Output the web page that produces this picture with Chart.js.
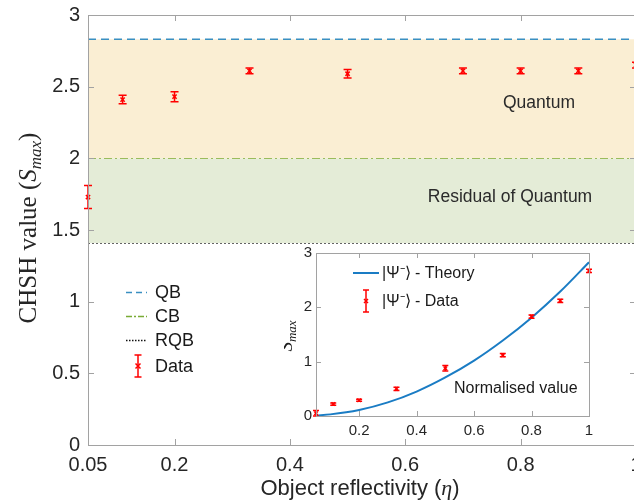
<!DOCTYPE html>
<html>
<head>
<meta charset="utf-8">
<title>CHSH value vs object reflectivity</title>
<style>
  html, body { margin: 0; padding: 0; background: #fff; overflow: hidden; }
  #wrap { position: relative; width: 634px; height: 504px; overflow: hidden; }
  #mainChart { position: absolute; left: 0; top: 0; }
  #insetChart { position: absolute; left: 284px; top: 245px; }
</style>
<script src="https://cdn.jsdelivr.net/npm/chart.js@4.4.0/dist/chart.umd.min.js"></script>
</head>
<body>
<div id="wrap">
  <canvas id="mainChart" width="640" height="504"></canvas>
  <canvas id="insetChart" width="322" height="195"></canvas>
</div>
<script>
var eta = [0.05, 0.11, 0.2, 0.33, 0.5, 0.7, 0.8, 0.9, 1.0];
var chsh = [1.73, 2.41, 2.43, 2.61, 2.59, 2.61, 2.61, 2.61, 2.65];
var chshErr = [0.08, 0.03, 0.035, 0.02, 0.03, 0.02, 0.02, 0.02, 0.02];

// inset: normalised values
var normS = [0.05, 0.22, 0.29, 0.50, 0.88, 1.12, 1.83, 2.12, 2.67];
var normErr = [0.05, 0.02, 0.02, 0.03, 0.05, 0.03, 0.03, 0.03, 0.03];
var theoryEta = [0.05, 0.1, 0.2, 0.3, 0.4, 0.5, 0.6, 0.7, 0.8, 0.9, 1.0];
var theoryS = [0.01, 0.03, 0.11, 0.25, 0.45, 0.71, 1.02, 1.39, 1.81, 2.29, 2.83];

// bounds
var boundNames = ['QB', 'CB', 'RQB'];
var boundValues = [2.83, 2.0, 1.41];
var etaRange = [0.05, 1.0];

// ticks
var mainXTicks = [0.05, 0.2, 0.4, 0.6, 0.8, 1];
var mainYTicks = [0, 0.5, 1, 1.5, 2, 2.5, 3];
var insetXTicks = [0.2, 0.4, 0.6, 0.8, 1];
var insetYTicks = [0, 1, 2, 3];

var SANS = '"Liberation Sans", Arial, sans-serif';
var SERIF = '"Liberation Serif", "Times New Roman", serif';
var RED = '#ff0000';
var QB_BLUE = '#3a8fc1';
var CB_GREEN = '#7aab35';
var THEORY_BLUE = '#1a7cc4';

function pts(xs, ys) {
  return xs.map(function (x, i) { return { x: x, y: ys[i] }; });
}

function drawRuns(ctx, runs, x, y) {
  var w = 0;
  runs.forEach(function (r) { ctx.font = r.font; w += ctx.measureText(r.t).width; });
  var cx = x - w / 2;
  ctx.textAlign = 'left';
  ctx.textBaseline = 'alphabetic';
  runs.forEach(function (r) {
    ctx.font = r.font;
    ctx.fillText(r.t, cx, y + (r.dy || 0));
    cx += ctx.measureText(r.t).width;
  });
}

function drawFrame(chart, len) {
  var ctx = chart.ctx, a = chart.chartArea, xs = chart.scales.x, ys = chart.scales.y;
  ctx.save();
  ctx.strokeStyle = '#a2a2a2';
  ctx.lineWidth = 1;
  ctx.setLineDash([]);
  ctx.strokeRect(Math.round(a.left) + 0.5, Math.round(a.top) + 0.5,
    Math.round(a.right - a.left), Math.round(a.bottom - a.top));
  ctx.beginPath();
  xs.ticks.forEach(function (t) {
    var px = Math.round(xs.getPixelForValue(t.value)) + 0.5;
    ctx.moveTo(px, a.bottom); ctx.lineTo(px, a.bottom - len);
    ctx.moveTo(px, a.top); ctx.lineTo(px, a.top + len);
  });
  ys.ticks.forEach(function (t) {
    var py = Math.round(ys.getPixelForValue(t.value)) + 0.5;
    ctx.moveTo(a.left, py); ctx.lineTo(a.left + len, py);
    ctx.moveTo(a.right, py); ctx.lineTo(a.right - len, py);
  });
  ctx.stroke();
  ctx.restore();
}

function errorBar(ctx, px, y1, y2, cap) {
  ctx.beginPath();
  ctx.moveTo(px, y1); ctx.lineTo(px, y2);
  ctx.moveTo(px - cap, y1); ctx.lineTo(px + cap, y1);
  ctx.moveTo(px - cap, y2); ctx.lineTo(px + cap, y2);
  ctx.stroke();
}

var errorBarPlugin = {
  id: 'errorBars',
  afterDatasetsDraw: function (chart) {
    var ctx = chart.ctx, xs = chart.scales.x, ys = chart.scales.y;
    chart.data.datasets.forEach(function (ds) {
      if (!ds.errors) return;
      ctx.save();
      ctx.strokeStyle = ds.borderColor;
      ctx.lineWidth = 1.5;
      ds.data.forEach(function (p, j) {
        var e = ds.errors[j];
        errorBar(ctx, xs.getPixelForValue(p.x), ys.getPixelForValue(p.y + e),
          ys.getPixelForValue(p.y - e), ds.capHalf);
      });
      ctx.restore();
    });
  }
};

var mainTextPlugin = {
  id: 'mainText',
  afterDraw: function (chart) {
    var ctx = chart.ctx;
    drawFrame(chart, 6);
    ctx.save();
    ctx.fillStyle = '#262626';

    // y title (rotated)
    ctx.save();
    ctx.translate(36, 228);
    ctx.rotate(-Math.PI / 2);
    drawRuns(ctx, [
      { t: 'CHSH value (', font: '25px ' + SERIF },
      { t: 'S', font: 'italic 25px ' + SERIF },
      { t: 'max', font: 'italic 17px ' + SERIF, dy: 5 },
      { t: ')', font: '25px ' + SERIF }
    ], 0, 0);
    ctx.restore();

    // x title
    drawRuns(ctx, [
      { t: 'Object reflectivity (', font: '22px ' + SANS },
      { t: '\u03b7', font: 'italic 22px ' + SERIF },
      { t: ')', font: '22px ' + SANS }
    ], 360, 495);

    // region labels
    ctx.fillStyle = '#2a2a2a';
    ctx.font = '17.5px ' + SANS;
    ctx.textAlign = 'center';
    ctx.textBaseline = 'middle';
    ctx.fillText('Quantum', 539, 103);
    ctx.fillText('Residual of Quantum', 510, 197);

    // legend
    var rows = [292, 316, 340, 366];
    ctx.fillStyle = '#1a1a1a';
    ctx.font = '18px ' + SANS;
    ctx.textAlign = 'left';
    ctx.lineWidth = 1.5;
    var styles = [[QB_BLUE, [6, 4]], [CB_GREEN, [6, 2, 2, 2]], ['#111', [1.5, 1.5]]];
    boundNames.forEach(function (name, i) {
      ctx.strokeStyle = styles[i][0];
      ctx.setLineDash(styles[i][1]);
      ctx.beginPath();
      ctx.moveTo(126, rows[i] + 0.5); ctx.lineTo(147, rows[i] + 0.5);
      ctx.stroke();
      ctx.fillText(name, 155, rows[i] + 1);
    });
    ctx.setLineDash([]);
    ctx.strokeStyle = RED;
    errorBar(ctx, 138, rows[3] - 11, rows[3] + 11, 3.5);
    ctx.beginPath();
    ctx.moveTo(135.5, rows[3] - 2.5); ctx.lineTo(140.5, rows[3] + 2.5);
    ctx.moveTo(135.5, rows[3] + 2.5); ctx.lineTo(140.5, rows[3] - 2.5);
    ctx.stroke();
    ctx.fillText('Data', 155, rows[3] + 1);
    ctx.restore();
  }
};

var insetTextPlugin = {
  id: 'insetText',
  afterDraw: function (chart) {
    var ctx = chart.ctx;
    var ox = 284, oy = 245; // page offset of this canvas
    drawFrame(chart, 5);
    ctx.save();
    ctx.fillStyle = '#1a1a1a';

    // y title
    ctx.save();
    ctx.translate(292 - ox, 336 - oy);
    ctx.rotate(-Math.PI / 2);
    drawRuns(ctx, [
      { t: 'S', font: 'italic 19px ' + SERIF },
      { t: 'max', font: 'italic 13px ' + SERIF, dy: 4 }
    ], 0, 0);
    ctx.strokeStyle = '#1a1a1a';
    ctx.lineWidth = 1;
    ctx.beginPath();
    ctx.moveTo(-15, -15.5); ctx.lineTo(-6, -15.5);
    ctx.stroke();
    ctx.restore();

    ctx.font = '16px ' + SANS;
    ctx.textAlign = 'left';
    ctx.textBaseline = 'middle';
    ctx.fillText('Normalised value', 454 - ox, 389 - oy);

    // legend
    ctx.strokeStyle = THEORY_BLUE;
    ctx.lineWidth = 2;
    ctx.beginPath();
    ctx.moveTo(353 - ox, 273 - oy); ctx.lineTo(379 - ox, 273 - oy);
    ctx.stroke();
    ctx.fillText('|\u03a8\u207b\u27e9 - Theory', 382 - ox, 274 - oy);
    ctx.strokeStyle = RED;
    ctx.lineWidth = 1.5;
    errorBar(ctx, 366 - ox, 290 - oy, 312 - oy, 3);
    ctx.beginPath();
    ctx.moveTo(364 - ox, 299 - oy); ctx.lineTo(368 - ox, 303 - oy);
    ctx.moveTo(364 - ox, 303 - oy); ctx.lineTo(368 - ox, 299 - oy);
    ctx.stroke();
    ctx.fillText('|\u03a8\u207b\u27e9 - Data', 382 - ox, 302 - oy);
    ctx.restore();
  }
};

function boundLine(i, color, dash, fill, fillColor) {
  return {
    label: boundNames[i],
    data: pts(etaRange, [boundValues[i], boundValues[i]]),
    showLine: true,
    pointRadius: 0,
    borderColor: color,
    borderWidth: 1.5,
    borderDash: dash,
    fill: fill,
    backgroundColor: fillColor
  };
}

// fixed-size axis; the label overhang padding is dropped so the plot box stays put
function tickAxis(ticks, min, max, fontSize, pad, size, isX) {
  return {
    type: 'linear',
    min: min,
    max: max,
    afterBuildTicks: function (s) { s.ticks = ticks.map(function (v) { return { value: v }; }); },
    afterFit: function (s) {
      if (isX) s.height = size; else s.width = size;
      s.paddingLeft = s.paddingRight = s.paddingTop = s.paddingBottom = 0;
    },
    grid: { display: false, drawTicks: false },
    border: { display: false },
    ticks: {
      padding: pad,
      autoSkip: false,
      maxRotation: 0,
      color: '#262626',
      font: { family: SANS, size: fontSize },
      callback: function (v) { return String(v); }
    }
  };
}

new Chart(document.getElementById('mainChart'), {
  type: 'scatter',
  data: {
    datasets: [
      {
        label: 'Data',
        data: pts(eta, chsh),
        errors: chshErr,
        capHalf: 4,
        pointStyle: 'crossRot',
        pointRadius: 3,
        borderColor: RED,
        backgroundColor: RED,
        borderWidth: 1.5,
        clip: false
      },
      boundLine(0, QB_BLUE, [8, 5], '+1', '#faeed3'),
      boundLine(1, CB_GREEN, [8, 3, 2, 3], '+1', '#e4ecd7'),
      boundLine(2, '#111111', [2, 2], false, 'rgba(0,0,0,0)')
    ]
  },
  options: {
    responsive: false,
    animation: false,
    layout: { autoPadding: false, padding: { left: 0, right: 4, top: 15, bottom: 0 } },
    plugins: { legend: { display: false }, tooltip: { enabled: false } },
    scales: {
      x: tickAxis(mainXTicks, etaRange[0], etaRange[1], 20, 8, 59, true),
      y: tickAxis(mainYTicks, 0, 3, 20, 8, 88, false)
    }
  },
  plugins: [errorBarPlugin, mainTextPlugin]
});

new Chart(document.getElementById('insetChart'), {
  type: 'scatter',
  data: {
    datasets: [
      {
        label: '|\u03a8\u207b\u27e9 - Data',
        data: pts(eta, normS),
        errors: normErr,
        capHalf: 3,
        pointStyle: 'crossRot',
        pointRadius: 2.5,
        borderColor: RED,
        backgroundColor: RED,
        borderWidth: 1.5,
        clip: false
      },
      {
        label: '|\u03a8\u207b\u27e9 - Theory',
        data: pts(theoryEta, theoryS),
        showLine: true,
        cubicInterpolationMode: 'monotone',
        pointRadius: 0,
        borderColor: THEORY_BLUE,
        borderWidth: 2,
        fill: false
      }
    ]
  },
  options: {
    responsive: false,
    animation: false,
    layout: { autoPadding: false, padding: { left: 0, right: 17, top: 8, bottom: 0 } },
    plugins: { legend: { display: false }, tooltip: { enabled: false } },
    scales: {
      x: tickAxis(insetXTicks, etaRange[0], etaRange[1], 15, 6, 24, true),
      y: tickAxis(insetYTicks, 0, 3, 15, 4, 32, false)
    }
  },
  plugins: [errorBarPlugin, insetTextPlugin]
});
</script>
</body>
</html>
